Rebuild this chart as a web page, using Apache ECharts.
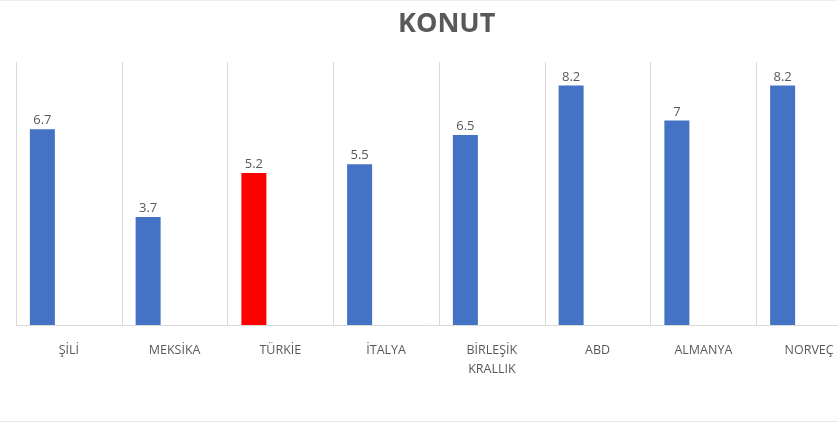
<!DOCTYPE html>
<html>
<head>
<meta charset="utf-8">
<script src="https://cdn.jsdelivr.net/npm/echarts@6/dist/echarts.min.js"></script>
<style>
  html, body { margin: 0; padding: 0; background: #fff; }
  #chart { width: 838px; height: 425px; }
</style>
</head>
<body>
<div id="chart"></div>
<script>
// veriler
var ulkeler = ["ŞİLİ", "MEKSİKA", "TÜRKİE", "İTALYA", "BİRLEŞİK\nKRALLIK", "ABD", "ALMANYA", "NORVEÇ"];
var konutDegerleri = [6.7, 3.7, 5.2, 5.5, 6.5, 8.2, 7, 8.2];
var vurguluUlke = "TÜRKİE";

var chart = echarts.init(document.getElementById("chart"));

var barData = konutDegerleri.map(function (v, i) {
  if (ulkeler[i] === vurguluUlke) {
    return { value: v, itemStyle: { color: "#ff0000" } };
  }
  return v;
});

var option = {
  animation: false,
  textStyle: { fontFamily: "Open Sans" },
  title: {
    text: "KONUT",
    left: 393,
    top: 6,
    textStyle: { fontSize: 27, fontWeight: "bold", color: "#595959", fontFamily: "Open Sans" }
  },
  // grafik sağdan taşıyor, bu yüzden outerBounds kapalı
  grid: { left: 16, top: 62, width: 846, bottom: 100, containLabel: false, outerBoundsMode: "none" },
  xAxis: {
    type: "category",
    data: ulkeler,
    axisLine: { lineStyle: { color: "#d9d9d9" } },
    axisTick: { show: false },
    splitLine: { show: true, lineStyle: { color: "#d9d9d9", width: 1 } },
    axisLabel: { color: "#595959", fontSize: 12.5, margin: 16, interval: 0, lineHeight: 19 }
  },
  yAxis: {
    type: "value",
    min: 0,
    max: 9,
    show: false
  },
  series: [
    {
      type: "bar",
      data: barData,
      barWidth: 25,
      barGap: "112%",
      itemStyle: { color: "#4472c4" },
      label: { show: true, position: "top", color: "#595959", fontSize: 13, distance: 2 }
    },
    {
      type: "bar",
      data: konutDegerleri.map(function () { return "-"; }),
      barWidth: 25
    }
  ],
  graphic: [
    { type: "line", shape: { x1: 0, y1: 0.5, x2: 838, y2: 0.5 }, style: { stroke: "#eeeeee", lineWidth: 1 } },
    { type: "line", shape: { x1: 0, y1: 421.5, x2: 838, y2: 421.5 }, style: { stroke: "#e6e6e6", lineWidth: 1 } }
  ]
};

chart.setOption(option);
</script>
</body>
</html>
